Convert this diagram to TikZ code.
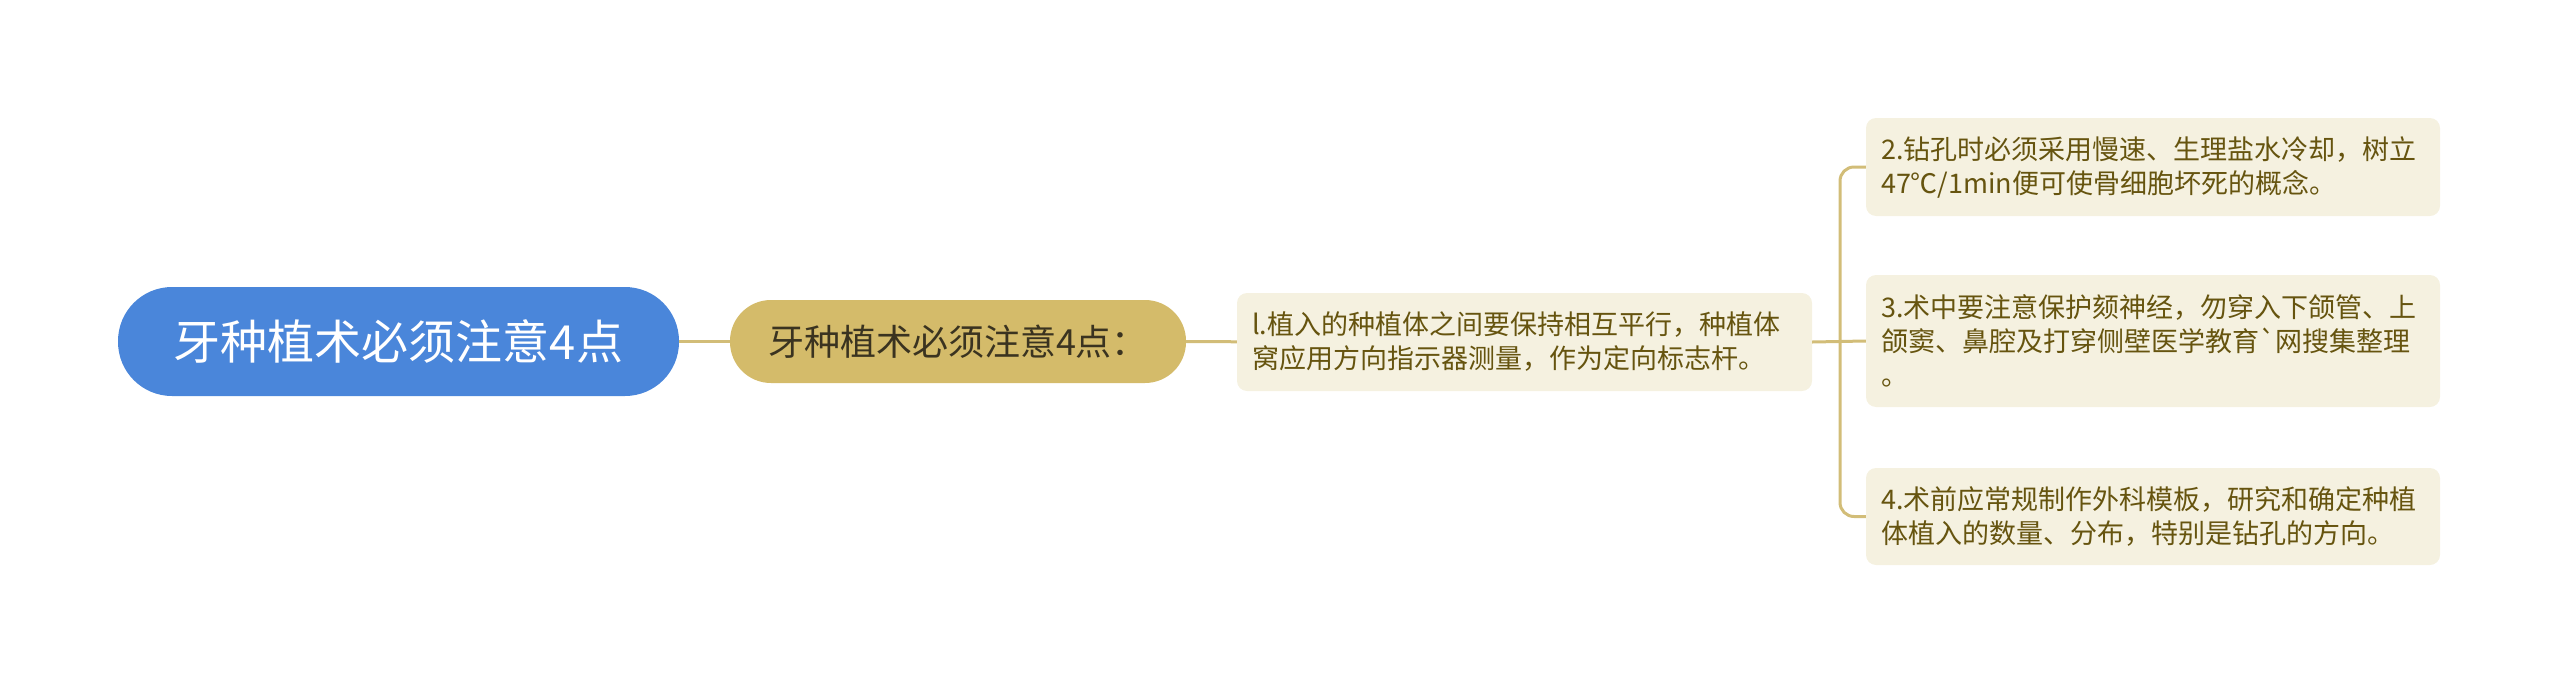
\documentclass[tikz,border=0pt]{standalone}
\usepackage{fontspec}
\setmainfont{Noto Sans CJK SC}[Ligatures=TeXOff]
\definecolor{rootblue}{HTML}{4A86DA}
\definecolor{topicgold}{HTML}{D4BB6A}
\definecolor{leafcream}{HTML}{F5F1E0}
\definecolor{linegold}{HTML}{D2BD78}
\definecolor{leaftext}{HTML}{66540F}
\definecolor{topictext}{HTML}{3A3320}
\begin{document}
\begin{tikzpicture}[x=1pt,y=-1pt,
	rootbox/.style={fill=rootblue, text=white, rounded corners=54pt, minimum width=561pt, minimum height=109pt, inner sep=0pt, font=\fontsize{47}{52}\selectfont},
	topicbox/.style={fill=topicgold, text=topictext, rounded corners=41pt, minimum width=456pt, minimum height=83pt, inner sep=0pt, font=\fontsize{36}{40}\selectfont},
	leafbox/.style={fill=leafcream, text=leaftext, rounded corners=10pt, text width=544pt, align=left, inner xsep=15pt, inner ysep=0pt, font=\fontsize{27}{34}\selectfont},
	link/.style={draw=linegold, line width=3pt}]
	
	\useasboundingbox (0,0) rectangle (2560,683);
	
	\node[rootbox] (root) at (398.5,341.5) {牙种植术必须注意4点};
	\node[topicbox] (topic) at (958,341.5) {牙种植术必须注意4点：};
	\node[leafbox, text width=545pt, minimum height=98pt] (sub) at (1524.5,342) {l.植入的种植体之间要保持相互平行，种植体\\窝应用方向指示器测量，作为定向标志杆。};
	
	\node[leafbox, minimum height=98pt] (leaf1) at (2153,167) {2.钻孔时必须采用慢速、生理盐水冷却，树立\\47℃/1min便可使骨细胞坏死的概念。};
	\node[leafbox, minimum height=132pt] (leaf2) at (2153,341) {3.术中要注意保护颏神经，勿穿入下颌管、上\\颌窦、鼻腔及打穿侧壁医学教育`网搜集整理\\。};
	\node[leafbox, minimum height=97pt] (leaf3) at (2153,516.5) {4.术前应常规制作外科模板，研究和确定种植\\体植入的数量、分布，特别是钻孔的方向。};
	
	\coordinate (fork) at (1840,341);
	
	\path[link] (root) -- (topic);
	\path[link] (topic) -- (sub);
	\path[link] (sub.east) -- (leaf2.west);
	\path[link, rounded corners=14pt] (leaf1.west) -| (fork);
	\path[link, rounded corners=14pt] (leaf3.west) -| (fork);
	
\end{tikzpicture}
\end{document}
